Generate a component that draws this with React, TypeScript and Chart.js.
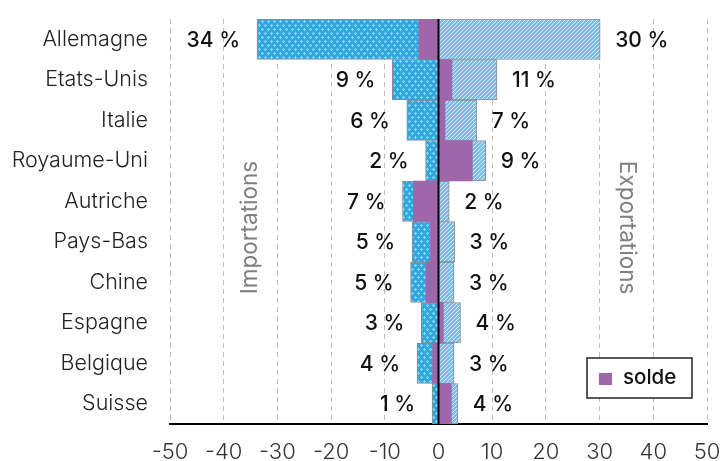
import { useEffect, useRef } from 'react';
import { Chart, registerables } from 'chart.js';

Chart.register(...registerables);

const categories = ['Allemagne', 'Etats-Unis', 'Italie', 'Royaume-Uni', 'Autriche', 'Pays-Bas', 'Chine', 'Espagne', 'Belgique', 'Suisse'];
const importShares = [33.8, 8.6, 5.9, 2.4, 6.7, 4.9, 5.2, 3.2, 4.0, 1.2];
const exportShares = [30.1, 10.9, 7.1, 8.8, 2.0, 3.0, 2.9, 4.1, 2.9, 3.6];
const soldeValues = [-3.7, 2.5, 1.2, 6.3, -4.7, -1.5, -2.3, 0.9, -1.1, 2.4];
const xMin = -50;
const xMax = 50;
const xStep = 10;
const importTitle = 'Importations';
const exportTitle = 'Exportations';
const legendLabel = 'solde';

const FONT = 'Inter, Roboto, "DejaVu Sans", sans-serif';
const PURPLE = '#A066AA';
const BORDER = '#8C8C8C';

function makeImportPattern(): CanvasPattern | string {
  const c = document.createElement('canvas');
  c.width = 6;
  c.height = 8;
  const g = c.getContext('2d');
  if (!g) return '#2FA8E0';
  g.fillStyle = '#2FA8E0';
  g.fillRect(0, 0, 6, 8);
  g.fillStyle = '#8ED2F3';
  const plus = (px: number, py: number) => {
    g.fillRect(px, py - 1, 1, 3);
    g.fillRect(px - 1, py, 3, 1);
  };
  plus(1, 1);
  plus(4, 5);
  return g.createPattern(c, 'repeat') || '#2FA8E0';
}

function makeExportPattern(): CanvasPattern | string {
  const c = document.createElement('canvas');
  c.width = 4;
  c.height = 4;
  const g = c.getContext('2d');
  if (!g) return '#7CBDEB';
  g.fillStyle = '#7CBDEB';
  g.fillRect(0, 0, 4, 4);
  g.fillStyle = '#D6EBFA';
  for (let yy = 0; yy < 4; yy++) {
    for (let xx = 0; xx < 4; xx++) {
      if ((xx + yy) % 4 === 0) g.fillRect(xx, yy, 1, 1);
    }
  }
  return g.createPattern(c, 'repeat') || '#7CBDEB';
}

const overlayPlugin = {
  id: 'overlay',
  afterDatasetsDraw(chart: any) {
    const { ctx, chartArea } = chart;
    const xs = chart.scales.x;
    const ys = chart.scales.y;
    ctx.save();
    // zero line
    const x0 = xs.getPixelForValue(0);
    ctx.strokeStyle = '#000';
    ctx.lineWidth = 2;
    ctx.beginPath();
    ctx.moveTo(x0, chartArea.top);
    ctx.lineTo(x0, chartArea.bottom);
    ctx.stroke();

    // value labels
    ctx.font = `500 21px ${FONT}`;
    ctx.fillStyle = '#111';
    ctx.textBaseline = 'middle';
    const impMeta = chart.getDatasetMeta(1);
    impMeta.data.forEach((bar: any, i: number) => {
      ctx.textAlign = 'right';
      ctx.fillText(`${Math.round(importShares[i])} %`, bar.x - 17, bar.y + 1);
    });
    const expMeta = chart.getDatasetMeta(2);
    expMeta.data.forEach((bar: any, i: number) => {
      ctx.textAlign = 'left';
      ctx.fillText(`${Math.round(exportShares[i])} %`, bar.x + 15, bar.y + 1);
    });

    // rotated titles
    ctx.font = `400 22.5px ${FONT}`;
    ctx.fillStyle = '#808080';
    ctx.textAlign = 'center';
    ctx.textBaseline = 'middle';
    const ty = ys.getPixelForValue(4.65);
    ctx.save();
    ctx.translate(xs.getPixelForValue(-35), ty);
    ctx.rotate(-Math.PI / 2);
    ctx.fillText(importTitle, 0, 0);
    ctx.restore();
    ctx.save();
    ctx.translate(xs.getPixelForValue(35), ty);
    ctx.rotate(Math.PI / 2);
    ctx.fillText(exportTitle, 0, 0);
    ctx.restore();

    // legend box
    const bw = 105;
    const bh = 40;
    const bx = chartArea.right - 120;
    const by = chartArea.bottom - 66;
    ctx.fillStyle = '#fff';
    ctx.fillRect(bx, by, bw, bh);
    ctx.strokeStyle = '#222';
    ctx.lineWidth = 1.5;
    ctx.strokeRect(bx, by, bw, bh);
    ctx.fillStyle = PURPLE;
    ctx.fillRect(bx + 12, by + 15, 13, 12);
    ctx.fillStyle = '#111';
    ctx.font = `500 20.5px ${FONT}`;
    ctx.textAlign = 'left';
    ctx.textBaseline = 'middle';
    ctx.fillText(legendLabel, bx + 36, by + bh / 2);
    ctx.restore();
  },
};

export default function App() {
  const canvasRef = useRef<HTMLCanvasElement | null>(null);

  useEffect(() => {
    const canvas = canvasRef.current;
    if (!canvas) return;
    const importPattern = makeImportPattern();
    const exportPattern = makeExportPattern();
    const chart = new Chart(canvas, {
      type: 'bar',
      data: {
        labels: categories,
        datasets: [
          {
            label: legendLabel,
            data: soldeValues,
            backgroundColor: PURPLE,
            borderWidth: 0,
            grouped: false,
            barPercentage: 1,
            categoryPercentage: 1,
          },
          {
            label: importTitle,
            data: importShares.map((v) => -v),
            backgroundColor: importPattern as any,
            borderColor: BORDER,
            borderWidth: 1,
            grouped: false,
            barPercentage: 1,
            categoryPercentage: 1,
          },
          {
            label: exportTitle,
            data: exportShares,
            backgroundColor: exportPattern as any,
            borderColor: BORDER,
            borderWidth: 1,
            grouped: false,
            barPercentage: 1,
            categoryPercentage: 1,
          },
        ],
      },
      options: {
        indexAxis: 'y',
        animation: false,
        responsive: true,
        maintainAspectRatio: false,
        layout: { padding: { top: 19, left: 0, right: 0, bottom: 0 } },
        plugins: {
          legend: { display: false },
          tooltip: { enabled: false },
        },
        scales: {
          x: {
            min: xMin,
            max: xMax,
            afterFit: (scale: any) => {
              scale.height = 37;
              scale.paddingRight = 15;
            },
            ticks: {
              stepSize: xStep,
              color: '#333',
              font: { family: FONT, size: 22, weight: '300' as any },
              padding: 15,
            },
            grid: {
              color: '#BDBDBD',
              lineWidth: 1,
              drawTicks: false,
            },
            border: {
              display: true,
              color: '#000',
              width: 2,
              dash: [5, 4],
            },
          },
          y: {
            afterFit: (scale: any) => {
              scale.width = 170;
              scale.paddingTop = 0;
              scale.paddingBottom = 0;
            },
            ticks: {
              color: '#222',
              font: { family: FONT, size: 21.5, weight: '300' as any },
              padding: 22,
            },
            grid: { display: false, drawTicks: false },
            border: { display: false },
          },
        },
      },
      plugins: [overlayPlugin],
    });
    return () => chart.destroy();
  }, []);

  return (
    <div style={{ position: 'absolute', left: 0, top: 0, width: 722, height: 461 }}>
      <canvas ref={canvasRef} />
    </div>
  );
}
